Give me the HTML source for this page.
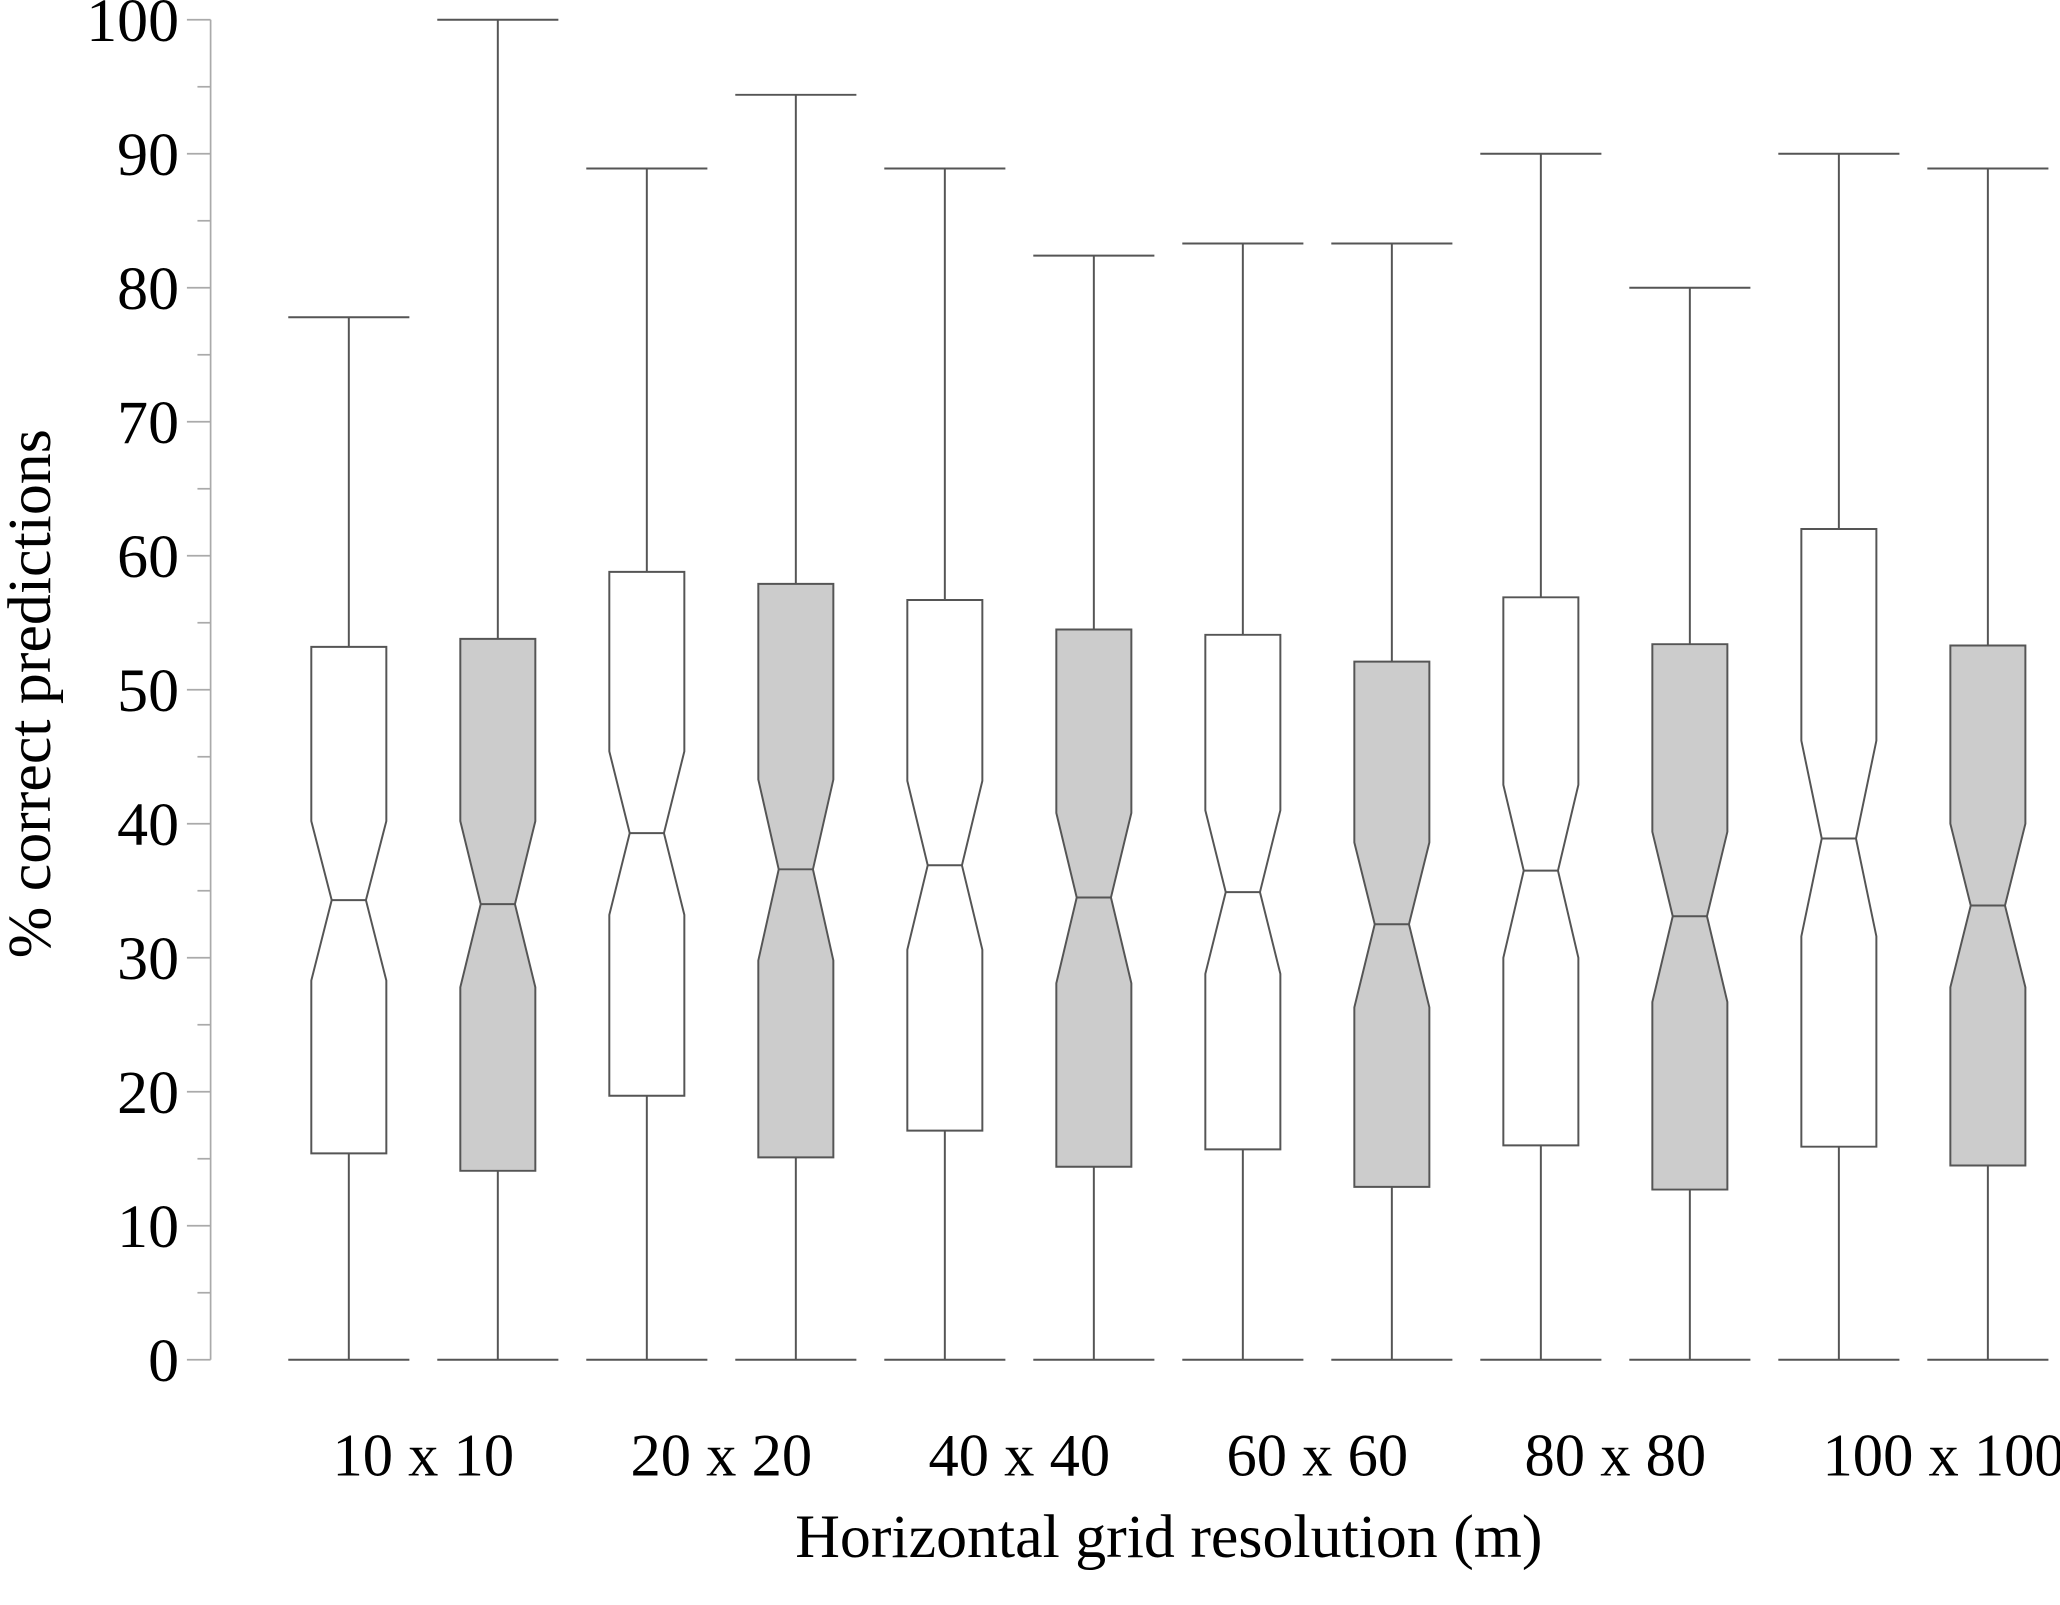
<!DOCTYPE html>
<html><head><meta charset="utf-8"><style>
html,body{margin:0;padding:0;background:#fff}
svg{display:block}
text{font-family:"Liberation Serif",serif;fill:#000}
</style></head><body>
<svg id="chart" width="2060" height="1605" viewBox="0 0 1565 1219.3" xmlns="http://www.w3.org/2000/svg">
<g id="axis"></g>
<g id="boxes"></g>
<g id="xlabels"></g>
<text x="0" y="0" font-size="47" text-anchor="middle" transform="translate(38,527) rotate(-90)">% correct predictions</text>
<text x="888" y="1183" font-size="47" text-anchor="middle">Horizontal grid resolution (m)</text>
</svg>
<script>
const categories = ["10 x 10","20 x 20","40 x 40","60 x 60","80 x 80","100 x 100"];
const whiskerMax = [77.8,100,88.9,94.4,88.9,82.4,83.3,83.3,90.0,80.0,90.0,88.9];
const q3 = [53.2,53.8,58.8,57.9,56.7,54.5,54.1,52.1,56.9,53.4,62.0,53.3];
const notchHi = [40.2,40.2,45.4,43.3,43.2,40.8,41.0,38.6,42.9,39.4,46.2,40.0];
const median = [34.3,34.0,39.3,36.6,36.9,34.5,34.9,32.5,36.5,33.1,38.9,33.9];
const notchLo = [28.3,27.8,33.2,29.8,30.6,28.1,28.8,26.3,30.0,26.7,31.6,27.8];
const q1 = [15.4,14.1,19.7,15.1,17.1,14.4,15.7,12.9,16.0,12.7,15.9,14.5];
const whiskerMin = [0,0,0,0,0,0,0,0,0,0,0,0];
const yTicks = [0,10,20,30,40,50,60,70,80,90,100];

const NS="http://www.w3.org/2000/svg";
const y = v => 1033 - v*(1033-15)/100;
const xc = i => 265 + i*113.2;
function mk(tag, attrs, parent){const e=document.createElementNS(NS,tag);for(const k in attrs)e.setAttribute(k,attrs[k]);parent.appendChild(e);return e;}
const ax=document.getElementById('axis');
const bx=document.getElementById('boxes');
const xl=document.getElementById('xlabels');
let l=mk('line',{x1:160,y1:y(0),x2:160,y2:y(100),stroke:'#aaa','stroke-width':1.3},ax);


for(let v=0;v<=100;v+=5){
  const major=v%10===0;
  const t=mk('line',{x1:major?142:150,x2:160,y1:y(v),y2:y(v),stroke:'#aaa','stroke-width':1.3},ax);
  
  
}
yTicks.forEach(v=>{
  const t=mk('text',{x:136,y:y(v)+16,'font-size':47,'text-anchor':'end'},ax);
  t.textContent=v;
  
  
});
const S='#555', W=1.5, bw=28.5, nw=13;
for(let i=0;i<q3.length;i++){
  const g=mk('g',{},bx);
  
  
  const c=xc(i), fill=i%2? '#cccccc':'#ffffff';
  mk('line',{x1:c,x2:c,y1:y(whiskerMax[i]),y2:y(q3[i]),stroke:S,'stroke-width':W},g);
  mk('line',{x1:c,x2:c,y1:y(q1[i]),y2:y(whiskerMin[i]),stroke:S,'stroke-width':W},g);
  mk('line',{x1:c-46,x2:c+46,y1:y(whiskerMax[i]),y2:y(whiskerMax[i]),stroke:S,'stroke-width':W},g);
  mk('line',{x1:c-46,x2:c+46,y1:y(whiskerMin[i]),y2:y(whiskerMin[i]),stroke:S,'stroke-width':W},g);
  const pts=[[c-bw,y(q3[i])],[c+bw,y(q3[i])],[c+bw,y(notchHi[i])],[c+nw,y(median[i])],[c+bw,y(notchLo[i])],[c+bw,y(q1[i])],[c-bw,y(q1[i])],[c-bw,y(notchLo[i])],[c-nw,y(median[i])],[c-bw,y(notchHi[i])]];
  mk('polygon',{points:pts.map(p=>p.join(',')).join(' '),fill:fill,stroke:S,'stroke-width':W},g);
  mk('line',{x1:c-nw,x2:c+nw,y1:y(median[i]),y2:y(median[i]),stroke:S,'stroke-width':W},g);
}
categories.forEach((c,k)=>{
  const cx=(xc(2*k)+xc(2*k+1))/2;
  const t=mk('text',{x:cx-69,y:1121,'font-size':46},xl);
  t.textContent=c;
  
  
});
</script>
</body></html>
